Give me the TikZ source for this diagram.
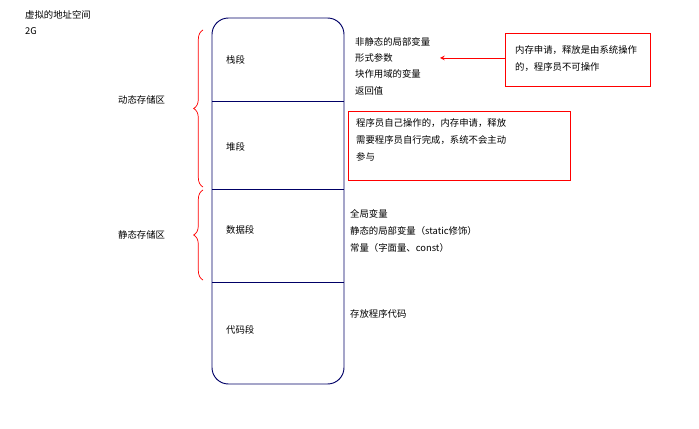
\documentclass[tikz,border=0pt]{standalone}
\usepackage{fontspec}
\setmainfont{Noto Sans CJK SC}
\usetikzlibrary{decorations.pathreplacing}
\tikzset{
  lbl/.style={anchor=west,inner sep=0pt,font=\fontsize{8}{10}\selectfont},
  redbox/.style={draw=red,line width=0.8pt},
  redbrace/.style={red,line width=0.6pt,decorate,decoration={brace,amplitude=8pt}}
}
\begin{document}
\begin{tikzpicture}[x=0.03cm,y=-0.03cm]
\useasboundingbox (0,0) rectangle (699,429);

% memory column
\draw[draw=blue!40!black,line width=0.8pt,rounded corners=14] (212,18) rectangle (344,384);
\draw[line width=0.8pt,blue!40!black] (212,101) -- (344,101);
\draw[line width=0.8pt,blue!40!black] (212,189) -- (344,189);
\draw[line width=0.8pt,blue!40!black] (212,282) -- (344,282);

\node[lbl] (stack) at (226,60) {栈段};
\node[lbl] (heap) at (226,147) {堆段};
\node[lbl] (data) at (226,230) {数据段};
\node[lbl] (code) at (226,330) {代码段};

\node[lbl] (title) at (25,15) {虚拟的地址空间};
\node[lbl] (size) at (25,31) {2G};
\node[lbl] (dyn) at (118,100) {动态存储区};
\node[lbl] (sta) at (118,235) {静态存储区};

% braces
\draw[redbrace] (203,187) -- (203,30);
\draw[redbrace] (203,280) -- (203,190);

% stack notes
\node[lbl] (s1) at (355,42) {非静态的局部变量};
\node[lbl] (s2) at (355,58) {形式参数};
\node[lbl] (s3) at (355,74) {块作用域的变量};
\node[lbl] (s4) at (355,91) {返回值};

\draw[redbox] (505,33) rectangle (650,86);
\coordinate (boxl) at (505,58);
\node[lbl] (n1) at (515,50) {内存申请，释放是由系统操作};
\node[lbl] (n2) at (515,67) {的，程序员不可操作};
\draw[red,line width=0.8pt,-stealth] (boxl) -- (s2.east -| 440,60);

% heap notes
\draw[redbox] (348,111) rectangle (570,180);
\node[lbl] (h1) at (356,123) {程序员自己操作的，内存申请，释放};
\node[lbl] (h2) at (356,140) {需要程序员自行完成，系统不会主动};
\node[lbl] (h3) at (356,157) {参与};

% data notes
\node[lbl] (d1) at (350,214) {全局变量};
\node[lbl] (d2) at (350,231) {静态的局部变量（static修饰）};
\node[lbl] (d3) at (350,248) {常量（字面量、const）};

\node[lbl] (c1) at (350,314) {存放程序代码};
\end{tikzpicture}
\end{document}
